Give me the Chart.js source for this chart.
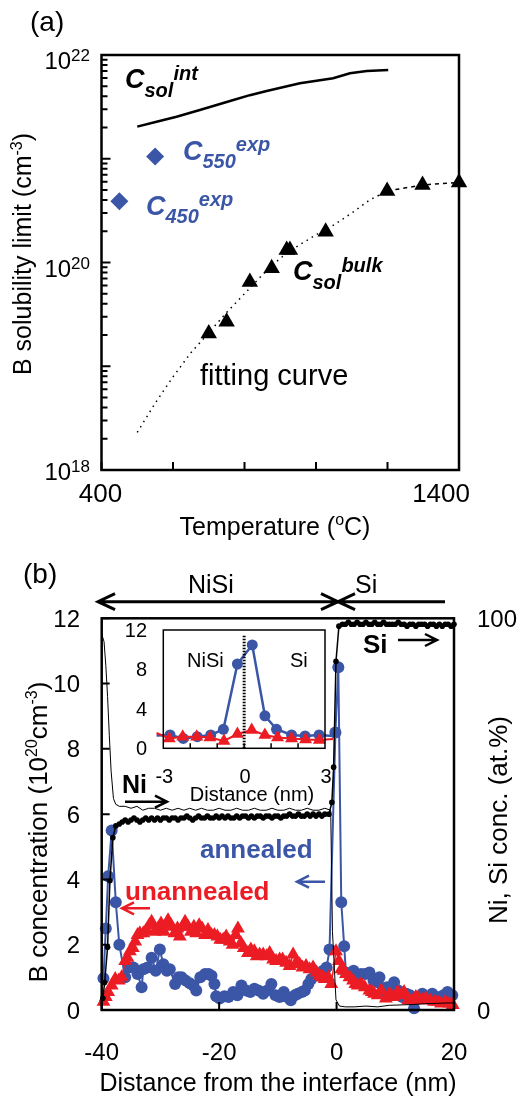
<!DOCTYPE html>
<html>
<head>
<meta charset="utf-8">
<script src="https://cdn.jsdelivr.net/npm/chart.js@4.4.1/dist/chart.umd.min.js"></script>
<style>
  html, body { margin: 0; padding: 0; background: #ffffff; }
  #wrap { position: relative; width: 520px; height: 1097px; overflow: hidden; }
  canvas { position: absolute; }
  #chart-a { left: 0; top: 0; }
  #chart-b { left: 0; top: 540px; }
  #inset { left: 120px; top: 620px; }
</style>
</head>
<body>
<div id="wrap">
  <canvas id="chart-a" width="520" height="540"></canvas>
  <canvas id="chart-b" width="520" height="557"></canvas>
  <canvas id="inset" width="225" height="185"></canvas>
</div>
<script>
// ---- panel (a): B solubility limit vs temperature ----
const intT = [500, 554, 610, 675, 769, 815, 862, 955, 1048, 1095, 1142, 1202];
const intC = [2.04e21, 2.27e21, 2.54e21, 2.95e21, 3.68e21, 4.1e21, 4.5e21, 5.34e21, 5.96e21, 6.66e21, 7.0e21, 7.17e21];
const expT = [550, 450];
const expC = [1.05e21, 3.9e20];
const bulkT = [700, 750, 815, 876, 918, 927, 1027, 1199, 1298, 1400];
const bulkC = [2.07e19, 2.69e19, 6.5e19, 8.8e19, 1.32e20, 1.32e20, 1.98e20, 4.9e20, 5.6e20, 5.9e20];
const fitT = [500, 550, 600, 650, 700, 750, 800, 850, 900, 950, 1000, 1050, 1100, 1150, 1200, 1300, 1400];
const fitC = [2.3e18, 4.4e18, 7.9e18, 1.35e19, 2.1e19, 3.3e19, 5.0e19, 7.6e19, 1.1e20, 1.45e20, 1.85e20, 2.3e20, 3.0e20, 4.0e20, 4.9e20, 5.6e20, 5.9e20];
const tempTicks = [400, 600, 800, 1000, 1200, 1400];
const tempLabels = ['400', '1400'];
const decadeLabels = [22, 20, 18];

// ---- panel (b): depth profiles (B in 1e20 cm-3, Ni/Si in at.%) ----
const annX = [-39.7, -39.3, -38.9, -38.3, -37.6, -37.0, -36.0, -35.4, -34.6, -33.9,
  -33.2, -32.9, -32.2, -31.5, -30.8, -30.1, -29.5, -28.9, -28.4, -27.5,
  -26.9, -26.4, -25.7, -25.0, -24.4, -23.9, -23.2, -22.4, -21.8, -21.3,
  -20.8, -20.5, -19.9, -19.1, -18.4, -17.6, -16.9, -16.2, -15.4, -14.7,
  -14.0, -13.3, -12.5, -11.8, -11.1, -10.4, -9.7, -9.0, -8.4, -7.8,
  -7.1, -6.6, -5.9, -5.4, -4.8, -4.3, -3.6, -2.9, -2.3, -1.7,
  -1.2, -0.2, 0.3, 0.8, 1.3, 1.6, 2.2, 2.9, 3.6, 4.2,
  4.9, 5.6, 6.3, 7.0, 7.3, 7.9, 8.6, 9.2, 9.8, 10.5,
  11.2, 11.9, 12.5, 13.2, 13.9, 14.6, 14.9, 15.6, 16.3, 16.9,
  17.5, 18.2, 18.9, 19.7];
const annY = [0.97, 2.5, 4.1, 5.5, 3.3, 2.0, 1.0, 1.3, 1.3, 1.1,
  0.7, 1.25, 1.3, 1.6, 1.2, 1.85, 1.4, 1.2, 1.25, 0.8,
  1.0, 1.0, 0.9, 0.82, 0.75, 0.6, 1.0, 1.1, 1.1, 1.05,
  0.8, 0.42, 0.35, 0.42, 0.4, 0.55, 0.45, 0.75, 0.6, 0.55,
  0.65, 0.6, 0.5, 0.6, 0.8, 0.45, 0.4, 0.55, 0.4, 0.3,
  0.45, 0.5, 0.55, 0.6, 0.8, 0.95, 1.1, 1.05, 1.2, 1.3,
  1.85, 8.5, 10.5, 3.3, 1.95, 1.15, 1.1, 1.2, 1.05, 1.1,
  1.1, 1.15, 0.9, 0.85, 1.0, 0.5, 0.7, 0.6, 0.85, 0.6,
  0.4, 0.5, 0.45, 0.05, 0.35, 0.5, 0.4, 0.35, 0.5, 0.35,
  0.4, 0.45, 0.55, 0.45];

const unX = [-39.7, -39.3, -38.9, -38.3, -37.7, -37.1, -36.6, -36.0, -35.6, -35.2,
  -34.7, -34.3, -33.9, -33.5, -32.9, -32.4, -31.9, -31.5, -31.0, -30.4,
  -29.9, -29.4, -28.9, -28.7, -28.2, -27.6, -27.1, -26.7, -26.2, -25.8,
  -25.3, -24.8, -24.3, -23.9, -23.4, -22.9, -22.4, -21.9, -21.3, -20.8,
  -20.3, -19.8, -19.3, -18.8, -18.2, -17.7, -17.2, -16.8, -16.3, -15.8,
  -15.1, -14.6, -14.0, -13.6, -13.1, -12.5, -11.9, -11.4, -10.8, -10.3,
  -9.7, -9.2, -8.6, -8.0, -7.4, -6.9, -6.3, -5.8, -5.2, -4.6,
  -4.0, -3.4, -2.9, -2.4, -2.0, -1.4, -0.9, -0.1, 0.4, 0.8,
  1.2, 1.6, 2.2, 2.8, 3.2, 3.6, 4.2, 4.8, 5.6, 6.0,
  6.4, 7.0, 7.6, 8.4, 9.0, 9.6, 10.4, 11.0, 11.5, 12.2,
  12.8, 13.5, 14.0, 14.6, 15.2, 15.9, 16.6, 17.2, 17.8, 18.5,
  19.2, 19.8];
const unY = [0.25, 0.4, 0.55, 0.75, 0.95, 0.9, 1.0, 1.5, 1.6, 1.8,
  1.9, 2.1, 2.3, 2.35, 2.35, 2.45, 2.6, 2.7, 2.4, 2.5,
  2.65, 2.4, 2.55, 2.75, 2.6, 2.35, 2.5, 2.25, 2.55, 2.7,
  2.55, 2.4, 2.55, 2.35, 2.6, 2.5, 2.3, 2.45, 2.3, 2.3,
  2.25, 2.15, 2.15, 2.25, 2.1, 2.0, 2.3, 2.5, 2.05, 1.9,
  1.75, 1.85, 1.8, 1.65, 1.7, 1.7, 1.65, 1.75, 1.55, 1.5,
  1.55, 1.55, 1.45, 1.35, 1.7, 1.45, 1.4, 1.3, 1.35, 1.25,
  1.3, 1.15, 1.05, 1.0, 0.95, 1.0, 0.8, 1.8, 1.5, 1.25,
  1.2, 1.1, 1.0, 0.9, 0.8, 0.75, 0.8, 0.7, 0.6, 0.55,
  0.5, 0.45, 0.6, 0.35, 0.5, 0.4, 0.55, 0.45, 0.55, 0.3,
  0.3, 0.4, 0.35, 0.3, 0.35, 0.3, 0.25, 0.25, 0.2, 0.25,
  0.2, 0.15];

const siX = [-39.8, -39.5, -39.0, -38.6, -38.1, -37.6, -37.0, -36.5, -36.0, -35.5,
  -35.0, -34.5, -34.0, -33.5, -33.0, -32.5, -32.0, -31.5, -31.0, -30.5,
  -30.0, -29.5, -29.0, -28.5, -28.0, -27.5, -27.0, -26.5, -26.0, -25.5,
  -25.0, -24.5, -24.0, -23.5, -23.0, -22.5, -22.0, -21.5, -21.0, -20.5,
  -20.0, -19.5, -19.0, -18.5, -18.0, -17.5, -17.0, -16.5, -16.0, -15.5,
  -15.0, -14.5, -14.0, -13.5, -13.0, -12.5, -12.0, -11.5, -11.0, -10.5,
  -10.0, -9.5, -9.0, -8.5, -8.0, -7.5, -7.0, -6.5, -6.0, -5.5,
  -5.0, -4.5, -4.0, -3.5, -3.0, -2.5, -2.0, -1.3, -0.8, -0.5,
  -0.1, 0.4, 1.0, 1.5, 2.0, 2.5, 3.0, 3.5, 4.0, 4.5,
  5.0, 5.5, 6.0, 6.5, 7.0, 7.5, 8.0, 8.5, 9.0, 9.5,
  10.0, 10.5, 11.0, 11.5, 12.0, 12.5, 13.0, 13.5, 14.0, 14.5,
  15.0, 15.5, 16.0, 16.5, 17.0, 17.5, 18.0, 18.5, 19.0, 19.5, 20.0];
const siP = [3, 7, 16, 33, 44, 47, 47.5, 48, 48.5, 48,
  48.5, 49, 48.5, 48, 48.5, 49, 48.5, 49, 48.5, 49,
  48.5, 49, 49, 48.5, 49, 49, 48.5, 49, 49, 49.5,
  49, 48.5, 49, 49.5, 49, 49, 49.5, 49, 49, 49.5,
  49, 49.5, 49, 49.5, 49, 49, 49.5, 49, 49.5, 49.5,
  49, 49.5, 49, 49.5, 49.5, 49, 49.5, 49.5, 49, 49.5,
  49.5, 49, 49.5, 49.5, 50, 49.5, 49.5, 50, 49.5, 49.5,
  50, 49.5, 50, 49.5, 50, 49.5, 50, 50, 53, 62,
  89, 98, 98.5, 98.5, 99, 98.5, 98.5, 99, 98.5, 98.5,
  99, 98.5, 98.5, 99, 98.5, 98.5, 99, 98.5, 98.5, 98.5,
  98.5, 99, 98.5, 98.5, 98, 98.5, 98.5, 98, 98.5, 98.5,
  98.5, 98, 98.5, 98.5, 98, 98.5, 98, 98.5, 98.5, 98, 98.5];

const niX = [-40.0, -39.6, -39.3, -39.0, -38.7, -38.4, -38.0, -37.6, -37.0, -36.0,
  -35.0, -34.0, -33.0, -32.0, -31.0, -30.0, -29.0, -28.0, -27.0, -26.0,
  -25.0, -24.0, -23.0, -22.0, -21.0, -20.0, -19.0, -18.0, -17.0, -16.0,
  -15.0, -14.0, -13.0, -12.0, -11.0, -10.0, -9.0, -8.0, -7.0, -6.0,
  -5.0, -4.0, -3.0, -2.0, -1.0, -0.7, -0.1, 0.5, 1.5, 3.0,
  5.0, 7.0, 9.0, 11.0, 13.0, 15.0, 17.0, 19.0, 20.0];
const niP = [96, 94, 88, 80, 70, 61, 54, 52.5, 52, 52,
  51.5, 52, 51, 51.5, 51.5, 51, 51.5, 51, 51.5, 51,
  51.5, 51, 51.5, 51, 51, 51.5, 51, 51, 51.5, 51,
  51, 51.5, 51, 51, 51.5, 51, 51, 51.5, 51, 51,
  51.5, 51, 51, 51.5, 51, 20, 2.6, 1, 0.8, 0.8,
  1, 0.8, 1.2, 1.3, 1.4, 1.6, 1.7, 1.8, 1.8];

const depthTicks = [-40, -20, 0, 20];
const bTicks = [0, 2, 4, 6, 8, 10, 12];
const pctTicks = [0, 100];

// ---- inset: close-up around the interface ----
const insAnnX = [-3.25, -2.75, -2.26, -1.74, -1.24, -0.77, -0.25, 0.3, 0.77, 1.2, 1.76, 2.26, 2.78, 3.3];
const insAnnY = [1.3, 1.35, 1.0, 1.18, 1.35, 1.93, 8.55, 10.48, 3.3, 1.93, 1.35, 1.25, 1.35, 1.25];
const insUnX = [-3.25, -2.78, -2.28, -1.76, -1.27, -0.75, -0.25, 0.28, 0.77, 1.24, 1.76, 2.28, 2.79, 3.3];
const insUnY = [1.55, 1.0, 1.18, 1.18, 1.1, 0.75, 1.45, 1.86, 1.35, 1.1, 1.0, 0.9, 0.84, 0.95];
const interfaceX = [0, 0];
const interfaceY = [0, 11.5];
const insXTicks = [-2, -1, 0, 1, 2];
const insXLabels = [-3, 0, 3];
const insYLabels = [0, 4, 8, 12];

const BLUE = '#3b56a6';
const RED = '#ec1c24';
const FAM = '"Liberation Sans", Arial, Helvetica, sans-serif';

Chart.defaults.font.family = FAM;

const pts = (xs, ys) => xs.map((x, i) => ({ x, y: ys[i] }));

// text run made of parts [text, size, dy]; x,y is the baseline anchor
function txt(ctx, parts, x, y, o = {}) {
  ctx.save();
  ctx.translate(x, y);
  if (o.rot) ctx.rotate(o.rot);
  ctx.fillStyle = o.color || '#000';
  ctx.textBaseline = 'alphabetic';
  ctx.textAlign = 'left';
  const font = (s) => `${o.style || 'normal'} ${o.weight || 'normal'} ${s}px ${FAM}`;
  const widths = parts.map(([t, s]) => { ctx.font = font(s); return ctx.measureText(t).width; });
  const total = widths.reduce((a, b) => a + b, 0);
  let cx = o.align === 'center' ? -total / 2 : o.align === 'right' ? -total : 0;
  parts.forEach(([t, s, dy], i) => {
    ctx.font = font(s);
    ctx.fillText(t, cx, dy || 0);
    cx += widths[i];
  });
  ctx.restore();
}

// horizontal arrow with an open chevron head at x2
function arrow(ctx, x1, y, x2, o = {}) {
  const d = Math.sign(x2 - x1);
  const len = o.len || 12, half = o.half || 6;
  ctx.save();
  ctx.strokeStyle = o.color || '#000';
  ctx.lineWidth = o.lw || 2.5;
  ctx.beginPath();
  ctx.moveTo(x1, y);
  ctx.lineTo(x2, y);
  ctx.moveTo(x2 - d * len, y - half);
  ctx.lineTo(x2, y);
  ctx.lineTo(x2 - d * len, y + half);
  ctx.stroke();
  ctx.restore();
}

const hidden = { grid: { display: false }, border: { display: false }, ticks: { display: false } };
const baseOpts = {
  responsive: false,
  animation: false,
  devicePixelRatio: 1,
  events: [],
  plugins: { legend: { display: false }, tooltip: { enabled: false } }
};

// ---------------- panel (a) ----------------
const decorA = {
  id: 'decorA',
  afterDraw(chart) {
    const { ctx, chartArea: a, scales: { x, y } } = chart;
    ctx.save();
    ctx.strokeStyle = '#000';
    ctx.lineWidth = 2.5;
    ctx.strokeRect(a.left, a.top, a.right - a.left, a.bottom - a.top);
    ctx.lineWidth = 2;
    ctx.beginPath();
    tempTicks.forEach((v) => {
      const px = x.getPixelForValue(v);
      ctx.moveTo(px, a.bottom);
      ctx.lineTo(px, a.bottom - 8);
    });
    for (let e = 18; e < 22; e++) {
      for (let m = 1; m < 10; m++) {
        const py = y.getPixelForValue(m * Math.pow(10, e));
        ctx.moveTo(a.left, py);
        ctx.lineTo(a.left + (m === 1 ? 9 : 6), py);
      }
    }
    ctx.stroke();
    ctx.restore();

    decadeLabels.forEach((e) => {
      const py = y.getPixelForValue(Math.pow(10, e));
      const base = py + (e === 18 ? 10 : 14);
      txt(ctx, [['10', 24, 0], [String(e), 17, -8]], 90, base, { align: 'right' });
    });
    txt(ctx, [[tempLabels[0], 26]], x.getPixelForValue(400) - 1, 502, { align: 'center' });
    txt(ctx, [[tempLabels[1], 26]], 470, 502, { align: 'right' });

    txt(ctx, [['(a)', 28]], 30, 31);
    const bi = { weight: 'bold', style: 'italic' };
    txt(ctx, [['C', 27, 0], ['sol', 20, 9], ['int', 20, -8]], 125, 88, bi);
    txt(ctx, [['C', 27, 0], ['550', 20, 8], ['exp', 20, -9]], 183, 160, { ...bi, color: BLUE });
    txt(ctx, [['C', 27, 0], ['450', 20, 8], ['exp', 20, -9]], 146, 215, { ...bi, color: BLUE });
    txt(ctx, [['C', 27, 0], ['sol', 20, 9], ['bulk', 20, -8]], 293, 280, bi);
    txt(ctx, [['fitting curve', 29]], 200, 385);

    txt(ctx, [['B solubility limit (cm', 25, 0], ['-3', 16, -9], [')', 25, 0]], 31, 254,
      { align: 'center', rot: -Math.PI / 2 });
    txt(ctx, [['Temperature (', 25, 0], ['o', 16, -10], ['C)', 25, 0]], 275, 535, { align: 'center' });
  }
};

new Chart(document.getElementById('chart-a'), {
  type: 'scatter',
  data: {
    datasets: [
      {
        data: pts(expT, expC),
        pointStyle: 'rectRot',
        pointRadius: 9,
        backgroundColor: BLUE,
        borderColor: BLUE,
        borderWidth: 0
      },
      {
        data: pts(bulkT, bulkC),
        pointStyle: 'triangle',
        pointRadius: 9.5,
        backgroundColor: '#000',
        borderColor: '#000',
        borderWidth: 0,
        clip: false
      },
      {
        data: pts(intT, intC),
        showLine: true,
        pointRadius: 0,
        borderColor: '#000',
        borderWidth: 2.5
      },
      {
        data: pts(fitT, fitC),
        showLine: true,
        pointRadius: 0,
        borderColor: '#000',
        borderWidth: 1.5,
        borderDash: [1.5, 4.5],
        segment: { borderDash: (c) => (c.p0.parsed.x >= 1200 ? [4, 4] : undefined) },
        clip: false
      }
    ]
  },
  options: {
    ...baseOpts,
    layout: { padding: { left: 0, top: 55, right: 61, bottom: 0 } },
    scales: {
      x: { type: 'linear', min: 400, max: 1400, ...hidden, afterFit: (s) => { s.height = 70; } },
      y: { type: 'logarithmic', min: 1e18, max: 1e22, ...hidden, afterFit: (s) => { s.width = 101.5; } }
    }
  },
  plugins: [decorA]
});

// ---------------- panel (b) ----------------
const decorB = {
  id: 'decorB',
  afterDraw(chart) {
    const { ctx, chartArea: a, scales: { x, y, y2 } } = chart;
    ctx.save();
    ctx.strokeStyle = '#000';
    ctx.lineWidth = 2.5;
    ctx.strokeRect(a.left, a.top, a.right - a.left, a.bottom - a.top);
    ctx.lineWidth = 2;
    ctx.beginPath();
    depthTicks.forEach((v) => {
      const px = x.getPixelForValue(v);
      ctx.moveTo(px, a.bottom);
      ctx.lineTo(px, a.bottom - 8);
    });
    bTicks.forEach((v) => {
      const py = y.getPixelForValue(v);
      ctx.moveTo(a.left, py);
      ctx.lineTo(a.left + 8, py);
    });
    ctx.stroke();
    ctx.restore();

    bTicks.forEach((v) => txt(ctx, [[String(v), 24]], 80, y.getPixelForValue(v) + 8.5, { align: 'right' }));
    pctTicks.forEach((v) => txt(ctx, [[String(v), 24]], 477, y2.getPixelForValue(v) + 8.5));
    depthTicks.forEach((v) => txt(ctx, [[String(v), 24]], x.getPixelForValue(v), 520, { align: 'center' }));

    txt(ctx, [['(b)', 28]], 23, 42.5);
    txt(ctx, [['NiSi', 25]], 188, 53);
    txt(ctx, [['Si', 25]], 355, 53);
    arrow(ctx, 218, 61.7, 98, { lw: 3, len: 17, half: 8 });
    arrow(ctx, 218, 61.7, 338, { lw: 3, len: 17, half: 8 });
    arrow(ctx, 445, 61.7, 338, { lw: 3, len: 17, half: 8 });

    txt(ctx, [['Si', 26]], 363, 113, { weight: 'bold' });
    arrow(ctx, 398, 100, 437, { lw: 2.5, len: 12, half: 6 });
    txt(ctx, [['Ni', 25]], 122, 253, { weight: 'bold' });
    arrow(ctx, 125, 261.7, 167, { lw: 2.5, len: 12, half: 6 });
    txt(ctx, [['annealed', 26]], 200, 318, { weight: 'bold', color: BLUE });
    arrow(ctx, 325, 341.7, 297, { lw: 2.5, len: 12, half: 6, color: BLUE });
    txt(ctx, [['unannealed', 26]], 125, 360, { weight: 'bold', color: RED });
    arrow(ctx, 150, 368.3, 122, { lw: 2.5, len: 12, half: 6, color: RED });

    txt(ctx, [['B concentration (10', 26, 0], ['20', 16, -10], ['cm', 26, 0], ['-3', 16, -10], [')', 26, 0]],
      47, 292, { align: 'center', rot: -Math.PI / 2 });
    txt(ctx, [['Ni, Si conc. (at.%)', 26]], 507, 280, { align: 'center', rot: -Math.PI / 2 });
    txt(ctx, [['Distance from the interface (nm)', 25]], 278, 551, { align: 'center' });
  }
};

new Chart(document.getElementById('chart-b'), {
  type: 'scatter',
  data: {
    datasets: [
      {
        data: pts(siX, siP),
        yAxisID: 'y2',
        showLine: true,
        borderColor: '#000',
        backgroundColor: '#000',
        borderWidth: 1.5,
        pointRadius: 2.8,
        pointBorderWidth: 0,
        clip: false
      },
      {
        data: pts(niX, niP),
        yAxisID: 'y2',
        showLine: true,
        borderColor: '#000',
        borderWidth: 1,
        pointRadius: 0,
        clip: false
      },
      {
        data: pts(unX, unY),
        showLine: true,
        borderColor: RED,
        backgroundColor: RED,
        borderWidth: 1.5,
        pointStyle: 'triangle',
        pointRadius: 8,
        pointBorderWidth: 0,
        clip: false
      },
      {
        data: pts(annX, annY),
        showLine: true,
        borderColor: BLUE,
        backgroundColor: BLUE,
        borderWidth: 2,
        pointRadius: 6,
        pointBorderWidth: 0,
        clip: false
      }
    ]
  },
  options: {
    ...baseOpts,
    layout: { padding: { left: 0, top: 78.3, right: 0, bottom: 0 } },
    scales: {
      x: { type: 'linear', min: -40, max: 20, ...hidden, afterFit: (s) => { s.height = 87; } },
      y: { type: 'linear', position: 'left', min: 0, max: 12, ...hidden, afterFit: (s) => { s.width = 101.7; } },
      y2: { type: 'linear', position: 'right', min: 0, max: 100, ...hidden, afterFit: (s) => { s.width = 66; } }
    }
  },
  plugins: [decorB]
});

// ---------------- inset ----------------
const decorInset = {
  id: 'decorInset',
  afterDraw(chart) {
    const { ctx, chartArea: a, scales: { x, y } } = chart;
    ctx.save();
    ctx.strokeStyle = '#000';
    ctx.lineWidth = 1.5;
    ctx.strokeRect(a.left, a.top, a.right - a.left, a.bottom - a.top);
    ctx.beginPath();
    insXTicks.forEach((v) => {
      const px = x.getPixelForValue(v);
      ctx.moveTo(px, a.bottom);
      ctx.lineTo(px, a.bottom - 5);
    });
    ctx.stroke();
    ctx.restore();

    insYLabels.forEach((v) => txt(ctx, [[String(v), 20]], 27, y.getPixelForValue(v) + 7, { align: 'right' }));
    insXLabels.forEach((v) => txt(ctx, [[String(v), 20]], x.getPixelForValue(v) + 1, 163, { align: 'center' }));
    txt(ctx, [['Distance (nm)', 20]], 132, 181, { align: 'center' });
    txt(ctx, [['NiSi', 20]], 67, 47);
    txt(ctx, [['Si', 20]], 170, 47);
  }
};

const edgeRadius = (xs, r) => xs.map((v) => (v < -3 || v > 3 ? 0 : r));

new Chart(document.getElementById('inset'), {
  type: 'scatter',
  data: {
    datasets: [
      {
        data: pts(interfaceX, interfaceY),
        showLine: true,
        pointRadius: 0,
        borderColor: '#000',
        borderWidth: 3,
        borderDash: [1.5, 1.5]
      },
      {
        data: pts(insUnX, insUnY),
        showLine: true,
        borderColor: RED,
        backgroundColor: RED,
        borderWidth: 2,
        pointStyle: 'triangle',
        pointRadius: edgeRadius(insUnX, 7.5),
        pointBorderWidth: 0,
        clip: { left: 8, right: 10, top: 5, bottom: 5 }
      },
      {
        data: pts(insAnnX, insAnnY),
        showLine: true,
        borderColor: BLUE,
        backgroundColor: BLUE,
        borderWidth: 2.5,
        pointRadius: edgeRadius(insAnnX, 5.5),
        pointBorderWidth: 0,
        clip: { left: 8, right: 10, top: 5, bottom: 5 }
      }
    ]
  },
  options: {
    ...baseOpts,
    layout: { padding: { left: 0, top: 10, right: 20, bottom: 0 } },
    scales: {
      x: { type: 'linear', min: -3, max: 3, ...hidden, afterFit: (s) => { s.height = 56.7; } },
      y: { type: 'linear', min: 0, max: 12, ...hidden, afterFit: (s) => { s.width = 43.3; } }
    }
  },
  plugins: [decorInset]
});
</script>
</body>
</html>
